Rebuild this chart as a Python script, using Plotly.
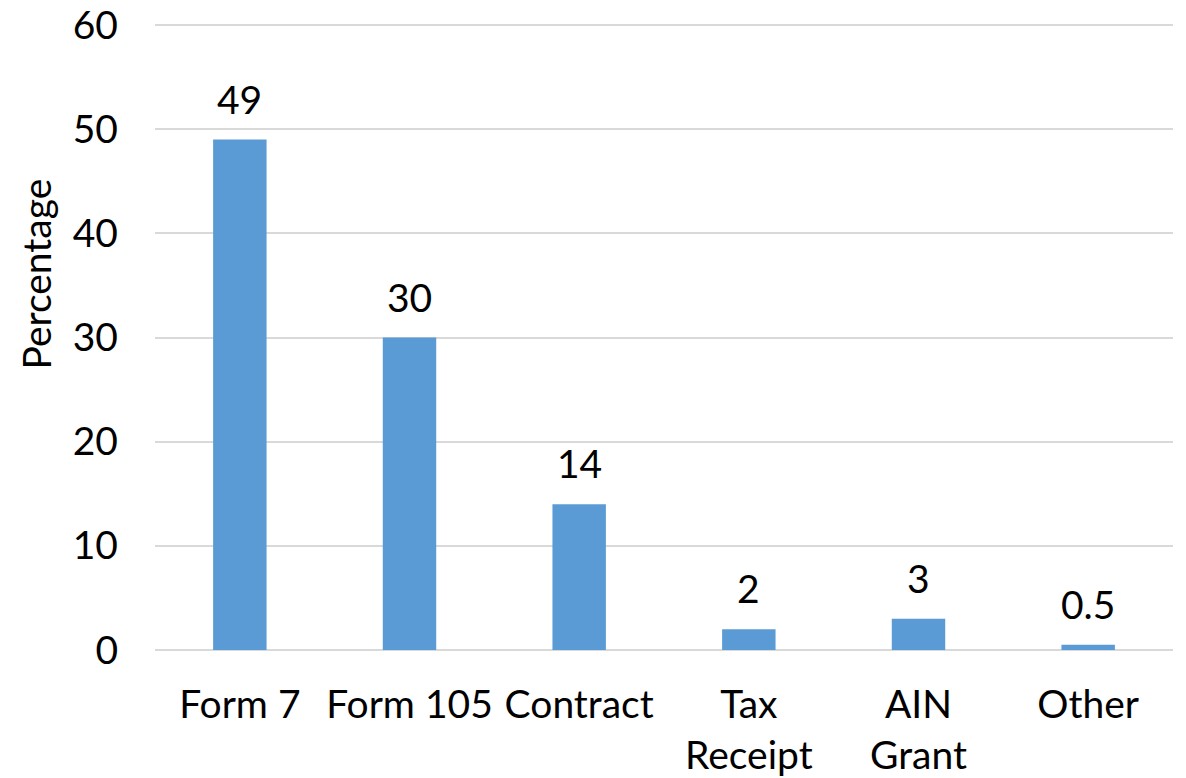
import plotly.graph_objects as go

categories = ["Form 7", "Form 105", "Contract", "Tax<br>Receipt", "AIN<br>Grant", "Other"]
values = [49, 30, 14, 2, 3, 0.5]
labels = ["49", "30", "14", "2", "3", "0.5"]
y_ticks = [0, 10, 20, 30, 40, 50, 60]
y_title = "Percentage"

FONT = "Lato"
FS = 39

fig = go.Figure()
fig.add_trace(go.Bar(x=categories, y=values, marker=dict(color="#5B9BD5", line=dict(width=0)),
                     hoverinfo="skip"))

for c, v, t in zip(categories, values, labels):
    fig.add_annotation(x=c, y=v, text=t, showarrow=False, yanchor="bottom", yshift=16,
                       font=dict(family=FONT, size=FS, color="#000000"))

fig.add_annotation(xref="paper", yref="paper", x=0, y=0.6, text=y_title, textangle=-90,
                   showarrow=False, xanchor="center", yanchor="middle", xshift=-119,
                   font=dict(family=FONT, size=FS, color="#000000"))

fig.update_layout(
    width=1186, height=778,
    margin=dict(l=155, r=13, t=24, b=128),
    paper_bgcolor="white", plot_bgcolor="white",
    bargap=0.685,
    showlegend=False,
    font=dict(family=FONT, size=FS, color="#000000"),
)
fig.update_xaxes(showgrid=False, showline=False, ticks="", ticklabelstandoff=28, automargin=False,
                 tickfont=dict(family=FONT, size=FS, color="#000000"))
fig.update_yaxes(range=[0, 60.1], tickvals=y_ticks, showgrid=True, gridcolor="#D9D9D9", gridwidth=1.5,
                 zeroline=True, zerolinecolor="#D9D9D9", zerolinewidth=2, automargin=False,
                 showline=False, ticks="", ticklabelstandoff=36,
                 tickfont=dict(family=FONT, size=FS, color="#000000"))

fig.write_html("out.html", config={"displayModeBar": False},
               post_script="document.body.style.margin='0';document.body.style.overflow='hidden';")
